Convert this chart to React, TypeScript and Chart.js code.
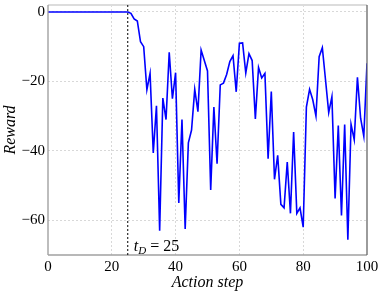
import { useEffect, useRef } from "react";
import { Chart, registerables } from "chart.js";

Chart.register(...registerables);

const steps = [
  0, 1, 2, 3, 4, 5, 6, 7, 8, 9, 10, 11, 12, 13, 14, 15, 16, 17, 18, 19, 20,
  21, 22, 23, 24, 25, 26, 27, 28, 29, 30, 31, 32, 33, 34, 35, 36, 37, 38, 39,
  40, 41, 42, 43, 44, 45, 46, 47, 48, 49, 50, 51, 52, 53, 54, 55, 56, 57, 58,
  59, 60, 61, 62, 63, 64, 65, 66, 67, 68, 69, 70, 71, 72, 73, 74, 75, 76, 77,
  78, 79, 80, 81, 82, 83, 84, 85, 86, 87, 88, 89, 90, 91, 92, 93, 94, 95, 96,
  97, 98, 99, 100,
];

const rewards = [
  0, 0, 0, 0, 0, 0, 0, 0, 0, 0, 0, 0, 0, 0, 0, 0, 0, 0, 0, 0, 0,
  0, 0, 0, 0, 0, -0.4, -2, -2.6, -8.6, -10, -22.4, -17.7, -40.6, -27, -63,
  -24.8, -31, -11.6, -25, -17.5, -55, -31, -62.5, -37.7, -34, -22.3, -28.7,
  -11, -14, -17, -51.3, -27.4, -43.7, -21, -20.5, -18, -14.3, -12.6, -23,
  -9, -8.9, -17.6, -12, -14, -30.8, -16, -19, -17.7, -42.3, -22.9, -48.2,
  -41.3, -55.4, -56.4, -43.2, -58, -34.6, -58, -56.4, -62, -27.4, -22.3,
  -25.3, -30, -12.9, -10.3, -19.6, -29, -24.4, -53.7, -32.7, -58.6, -32.4,
  -65.6, -32.4, -36.8, -18.8, -30.6, -35.8, -14.8,
];

const xTicks = [0, 20, 40, 60, 80, 100];
const yTicks = [-60, -40, -20, 0];
const tD = 25;

const SERIF = "'Liberation Serif', 'Times New Roman', serif";

const framePlugin = {
  id: "frame",
  afterDatasetsDraw(chart: any) {
    const { ctx, chartArea } = chart;
    const { left, right, top, bottom } = chartArea;
    ctx.save();
    // top border
    ctx.strokeStyle = "#dcdcdc";
    ctx.lineWidth = 2;
    ctx.beginPath();
    ctx.moveTo(left, top);
    ctx.lineTo(right, top);
    ctx.stroke();
    // left border
    ctx.strokeStyle = "#9a9a9a";
    ctx.lineWidth = 1.3;
    ctx.beginPath();
    ctx.moveTo(left, top);
    ctx.lineTo(left, bottom);
    ctx.stroke();
    // bottom border
    ctx.strokeStyle = "#a0a0a0";
    ctx.beginPath();
    ctx.moveTo(left, bottom);
    ctx.lineTo(right, bottom);
    ctx.stroke();
    // right border
    ctx.strokeStyle = "#666666";
    ctx.beginPath();
    ctx.moveTo(right, top);
    ctx.lineTo(right, bottom);
    ctx.stroke();

    // vertical dotted line at tD
    const xp = chart.scales.x.getPixelForValue(tD);
    ctx.strokeStyle = "#000";
    ctx.lineWidth = 1;
    ctx.setLineDash([2, 2]);
    ctx.beginPath();
    ctx.moveTo(xp, top);
    ctx.lineTo(xp, bottom);
    ctx.stroke();
    ctx.setLineDash([]);

    // annotation
    let tx = xp + 6;
    const by = bottom - 4;
    ctx.fillStyle = "#000";
    ctx.textBaseline = "alphabetic";
    ctx.textAlign = "left";
    ctx.font = `italic 16px ${SERIF}`;
    ctx.fillText("t", tx, by);
    tx += ctx.measureText("t").width;
    ctx.font = `italic 11px ${SERIF}`;
    ctx.fillText("D", tx, by + 3);
    tx += ctx.measureText("D").width;
    ctx.font = `16px ${SERIF}`;
    ctx.fillText(" = " + tD, tx, by);
    ctx.restore();
  },
};

export default function App() {
  const ref = useRef<HTMLCanvasElement>(null);

  useEffect(() => {
    document.body.style.margin = "0";
    const canvas = ref.current;
    if (!canvas) return;
    const chart = new Chart(canvas, {
      type: "line",
      data: {
        datasets: [
          {
            data: steps.map((x, i) => ({ x, y: rewards[i] })),
            borderColor: "#0000ff",
            borderWidth: 1.6,
            pointRadius: 0,
            fill: false,
            tension: 0,
          },
        ],
      },
      options: {
        responsive: false,
        animation: false,
        devicePixelRatio: 1,
        layout: { padding: { top: 5, right: 17, left: 0, bottom: 0 } },
        plugins: {
          legend: { display: false },
          tooltip: { enabled: false },
        },
        scales: {
          x: {
            type: "linear",
            min: 0,
            max: 100,
            afterBuildTicks: (s: any) => {
              s.ticks = xTicks.map((v) => ({ value: v }));
            },
            afterFit: (s: any) => {
              s.height = 40;
              s.paddingLeft = 0;
              s.paddingRight = 0;
            },
            grid: {
              drawTicks: false,
              lineWidth: 0.8,
              color: (c: any) =>
                c.tick && (c.tick.value === 0 || c.tick.value === 100)
                  ? "rgba(0,0,0,0)"
                  : "#cfcfcf",
            },
            border: { display: false, dash: [2, 2] },
            ticks: {
              color: "#000",
              font: { family: SERIF, size: 15 },
              padding: 3,
              maxRotation: 0,
              autoSkip: false,
            },
            title: {
              display: true,
              text: "Action step",
              color: "#000",
              font: { family: SERIF, size: 16, style: "italic" },
              padding: { top: 0, bottom: 3 },
            },
          },
          y: {
            type: "linear",
            min: -70,
            max: 2,
            afterBuildTicks: (s: any) => {
              s.ticks = yTicks.map((v) => ({ value: v }));
            },
            afterFit: (s: any) => {
              s.width = 48;
              s.paddingTop = 0;
              s.paddingBottom = 0;
            },
            grid: {
              drawTicks: false,
              lineWidth: 0.8,
              color: "#cfcfcf",
            },
            border: { display: false, dash: [2, 2] },
            ticks: {
              color: "#000",
              font: { family: SERIF, size: 15 },
              padding: 3,
              callback: (v: any) =>
                Number(v) < 0 ? "\u2212" + Math.abs(Number(v)) : String(v),
            },
            title: {
              display: true,
              text: "Reward",
              color: "#000",
              font: { family: SERIF, size: 16, style: "italic" },
              padding: { top: 1, bottom: 0 },
            },
          },
        },
      },
      plugins: [framePlugin],
    } as any);
    return () => chart.destroy();
  }, []);

  return (
    <div style={{ position: "absolute", left: 0, top: 0, width: 384, height: 295 }}>
      <canvas ref={ref} width={384} height={295} style={{ display: "block" }} />
    </div>
  );
}
